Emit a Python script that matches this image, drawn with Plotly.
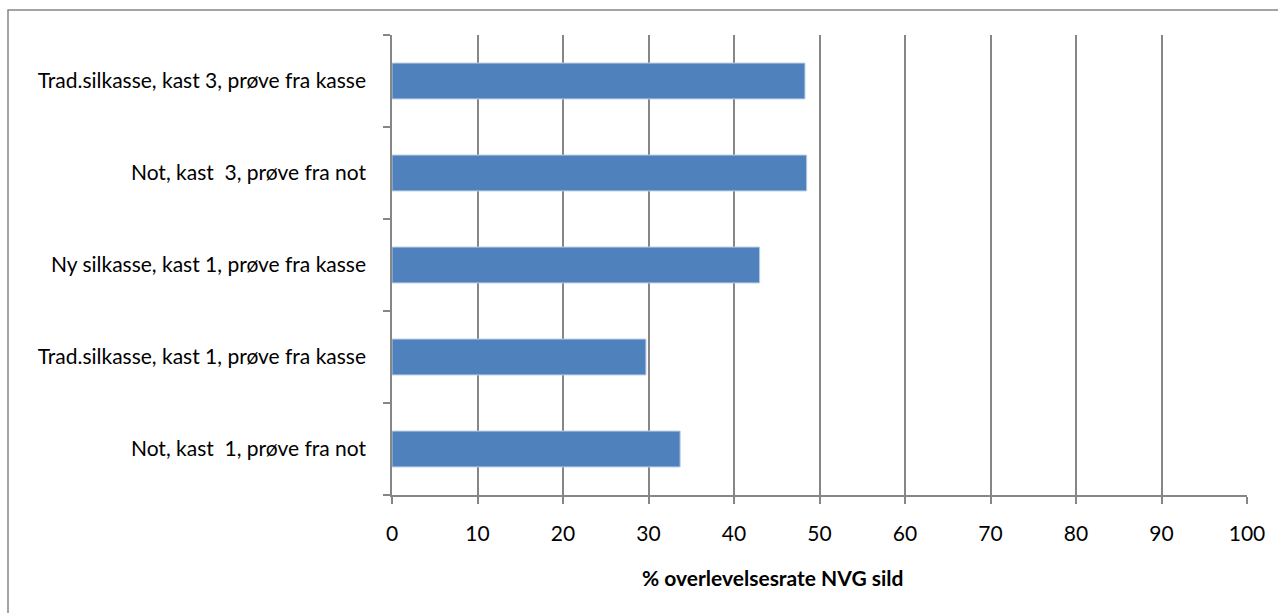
import plotly.graph_objects as go

categories = [
    "Not, kast  1, prøve fra not",
    "Trad.silkasse, kast 1, prøve fra kasse",
    "Ny silkasse, kast 1, prøve fra kasse",
    "Not, kast  3, prøve fra not",
    "Trad.silkasse, kast 3, prøve fra kasse",
]
values = [33.7, 29.7, 43.0, 48.5, 48.3]
x_ticks = list(range(0, 101, 10))
x_title = "% overlevelsesrate NVG sild"

W, H = 1278, 613
L, R, T, B = 392, 31, 35, 118
pw, ph = W - L - R, H - T - B

fig = go.Figure(go.Bar(
    x=values, y=categories, orientation="h",
    marker=dict(color="#4F81BD", line=dict(color="#B9CDE5", width=1)),
    width=0.39,
))

axis_gray = "#868686"
font = "Lato, 'Open Sans', sans-serif"

fig.update_layout(
    width=W, height=H,
    margin=dict(l=L, r=R, t=T, b=B, pad=0),
    plot_bgcolor="white", paper_bgcolor="white",
    showlegend=False,
    font=dict(family=font, size=21, color="#000000"),
    xaxis=dict(
        range=[0, 100], tickvals=x_ticks, ticktext=[str(v) for v in x_ticks],
        showgrid=True, gridcolor=axis_gray, gridwidth=1.5,
        showline=True, linecolor=axis_gray, linewidth=1.5,
        ticks="outside", ticklen=7, tickcolor=axis_gray, tickwidth=1.5,
        ticklabelstandoff=12,
        zeroline=False,
    ),
    yaxis=dict(
        categoryorder="array", categoryarray=categories,
        showgrid=False, showline=True, linecolor=axis_gray, linewidth=1.5,
        ticks="outside", ticklen=7, tickcolor=axis_gray, tickwidth=1.5,
        tickson="boundaries", ticklabelstandoff=20,
        range=[-0.5, 4.5],
    ),
)

fig.add_annotation(text="<b>" + x_title + "</b>", xref="paper", yref="paper",
                   x=(772 - L) / pw, y=-(577 - T - ph) / ph,
                   xanchor="center", yanchor="middle", showarrow=False,
                   font=dict(size=21))

# outer chart border
fig.add_shape(type="rect", xref="paper", yref="paper",
              x0=(8 - L) / pw, x1=(W + 20 - L) / pw,
              y0=-(H + 20 - T - ph) / ph, y1=1 + (T - 10) / ph,
              line=dict(color=axis_gray, width=1.5), fillcolor="rgba(0,0,0,0)",
              layer="below")

fig.write_html("out.html")
